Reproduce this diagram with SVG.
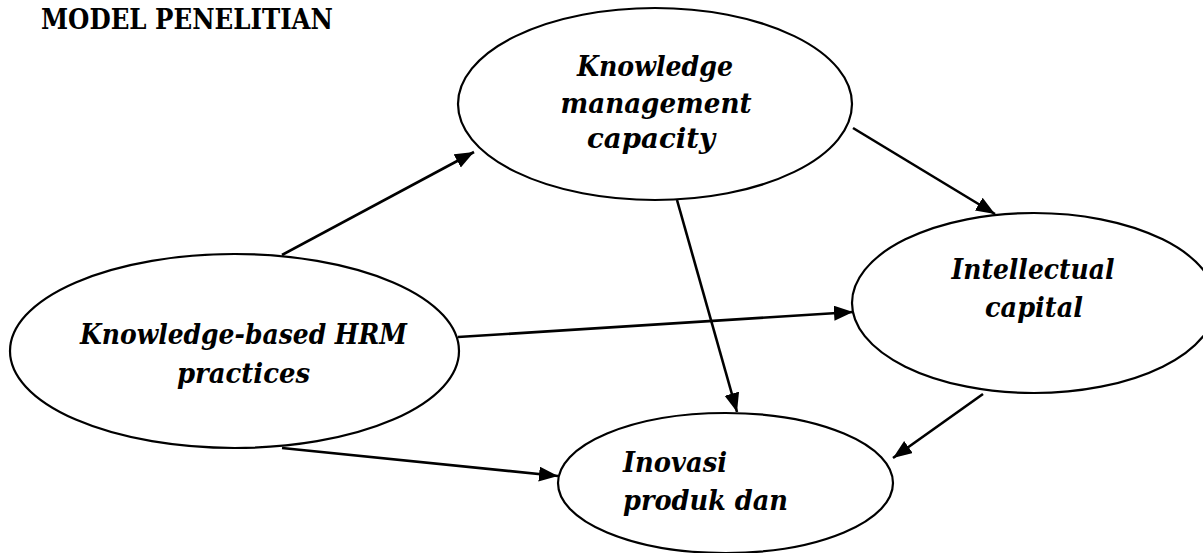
<svg xmlns="http://www.w3.org/2000/svg" width="1203" height="553" viewBox="0 0 1203 553">
  <style>
    .node { fill: #ffffff; stroke: #000000; stroke-width: 2.2; }
    .label { font-family: "DejaVu Serif", "Liberation Serif", serif; font-weight: bold; font-style: italic; font-size: 28px; fill: #000000; }
    .title { font-family: "DejaVu Serif", "Liberation Serif", serif; font-weight: bold; font-size: 27px; fill: #000000; }
    .edge { stroke: #000000; stroke-width: 2.6; fill: none; marker-end: url(#arrow); }
  </style>
  <defs>
    <marker id="arrow" markerUnits="userSpaceOnUse" markerWidth="20" markerHeight="16" refX="19" refY="7.5" orient="auto">
      <path d="M0,0 L19,7.5 L0,15 Z" fill="#000000"/>
    </marker>
  </defs>
  <rect x="0" y="0" width="1203" height="553" fill="#ffffff"/>
  <text class="title" x="41" y="29" textLength="292" lengthAdjust="spacingAndGlyphs">MODEL PENELITIAN</text>

  <g id="connectors">
    <line class="edge" x1="282" y1="255" x2="474" y2="152"/>
    <line class="edge" x1="853" y1="128" x2="995" y2="214"/>
    <line class="edge" x1="458" y1="337" x2="853" y2="312"/>
    <line class="edge" x1="677" y1="200" x2="737" y2="412"/>
    <line class="edge" x1="282" y1="448" x2="558" y2="476"/>
    <line class="edge" x1="983" y1="394" x2="893" y2="458"/>
  </g>

  <g id="node-km">
    <ellipse class="node" cx="655" cy="104" rx="197" ry="96"/>
    <text class="label" x="655" y="76" text-anchor="middle" textLength="156" lengthAdjust="spacingAndGlyphs">Knowledge</text>
    <text class="label" x="656" y="113" text-anchor="middle" textLength="191" lengthAdjust="spacingAndGlyphs">management</text>
    <text class="label" x="651" y="148" text-anchor="middle" textLength="128" lengthAdjust="spacingAndGlyphs">capacity</text>
  </g>

  <g id="node-ic">
    <ellipse class="node" cx="1034" cy="303" rx="182" ry="90"/>
    <text class="label" x="1033" y="279" text-anchor="middle" textLength="163" lengthAdjust="spacingAndGlyphs">Intellectual</text>
    <text class="label" x="1034" y="317" text-anchor="middle" textLength="98" lengthAdjust="spacingAndGlyphs">capital</text>
  </g>

  <g id="node-hrm">
    <ellipse class="node" cx="234.5" cy="351" rx="224.5" ry="97"/>
    <text class="label" x="243.5" y="344" text-anchor="middle" textLength="327" lengthAdjust="spacingAndGlyphs">Knowledge-based HRM</text>
    <text class="label" x="243.5" y="383" text-anchor="middle" textLength="133" lengthAdjust="spacingAndGlyphs">practices</text>
  </g>

  <g id="node-inovasi">
    <ellipse class="node" cx="725.5" cy="483" rx="167.5" ry="70"/>
    <text class="label" x="623" y="472" textLength="104" lengthAdjust="spacingAndGlyphs">Inovasi</text>
    <text class="label" x="623" y="510" textLength="165" lengthAdjust="spacingAndGlyphs">produk dan</text>
  </g>
</svg>
